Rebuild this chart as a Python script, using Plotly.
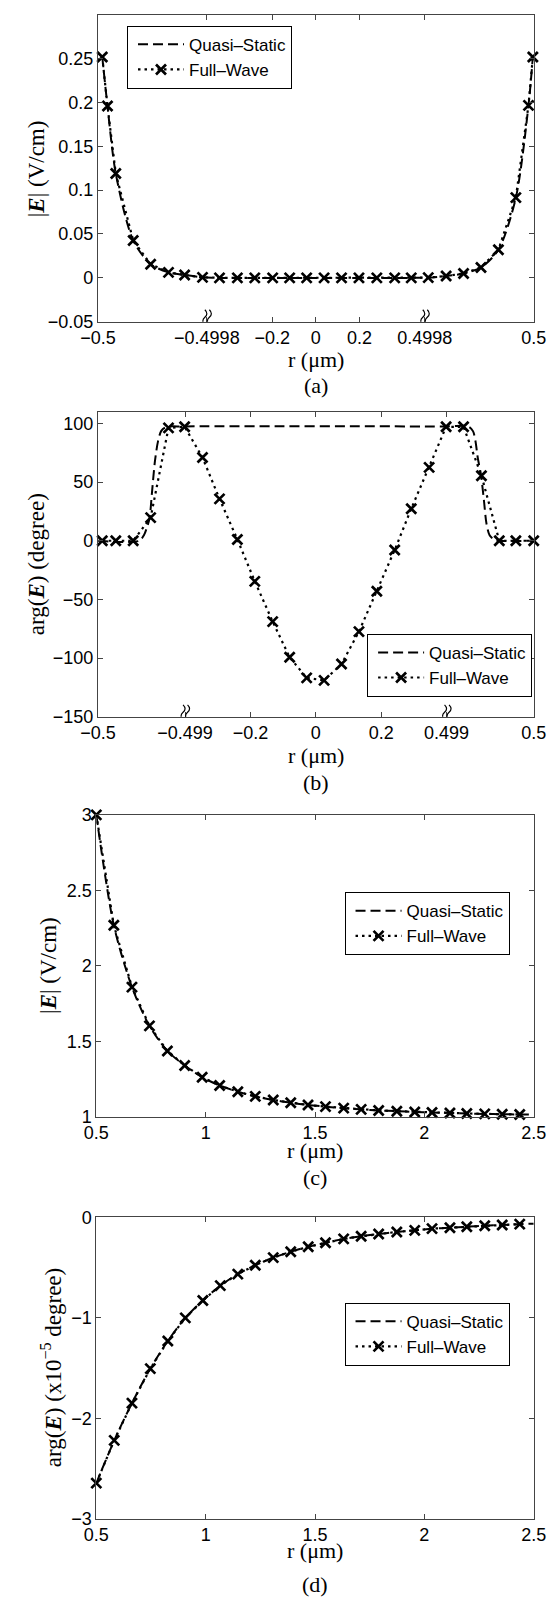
import plotly.graph_objects as go

W, H = 559, 1608

# ---------------- data ----------------
# Panel (a): |E| inside sphere, broken axis (display coordinate with custom tick labels)
a_tick_pos = [-0.5, -0.25, -0.1, 0, 0.1, 0.25, 0.5]
a_tick_text = ["\u22120.5", "\u22120.4998", "\u22120.2", "0", "0.2", "0.4998", "0.5"]
a_fw_x = [-0.490, -0.478, -0.459, -0.419, -0.379, -0.338, -0.301, -0.260, -0.221, -0.180,
          -0.140, -0.099, -0.060, -0.021, 0.019, 0.059, 0.099, 0.140, 0.181, 0.219,
          0.258, 0.299, 0.339, 0.379, 0.419, 0.459, 0.488, 0.498]
a_fw_y = [0.2516, 0.1957, 0.1188, 0.0426, 0.0156, 0.0063, 0.0033, 0.0006, 0, 0,
          0, 0, 0, 0, 0, 0, 0, 0, 0, 0,
          0.0003, 0.0021, 0.0050, 0.0119, 0.0320, 0.0914, 0.1965, 0.2516]
a_qs_x = a_fw_x
a_qs_y = a_fw_y

# Panel (b): arg(E) inside sphere
b_tick_pos = [-0.5, -0.3, -0.15, 0, 0.15, 0.3, 0.5]
b_tick_text = ["\u22120.5", "\u22120.499", "\u22120.2", "0", "0.2", "0.499", "0.5"]
b_fw_x = [-0.490, -0.459, -0.419, -0.379, -0.338, -0.301, -0.260, -0.221, -0.180, -0.140,
          -0.099, -0.060, -0.021, 0.019, 0.059, 0.099, 0.140, 0.181, 0.219, 0.260,
          0.299, 0.339, 0.380, 0.421, 0.459, 0.500]
b_fw_y = [0, 0, 0, 19.7, 96.2, 97.1, 70.9, 35.7, 1.1, -34.6,
          -68.9, -99.3, -116.8, -119.0, -105.0, -77.4, -43.0, -7.9, 27.3, 62.5,
          97.1, 97.1, 55.4, 0, 0, 0]
b_qs_x = [-0.500, -0.405, -0.3945, -0.3871, -0.3814, -0.3762, -0.3690, -0.3619, -0.3546,
          -0.3437, -0.301, 0.299, 0.3498, 0.3606, 0.3663, 0.3715, 0.379, 0.3858, 0.3916,
          0.3988, 0.4111, 0.418, 0.500]
b_qs_y = [0, 0, 4.7, 11.8, 19.4, 40.0, 68.2, 85.1, 93.6,
          96.9, 97.4, 97.4, 97.4, 93.4, 85.0, 70.9, 56.0, 34.3, 14.6,
          4.7, 0.5, 0, 0]

# Panel (c): |E| outside sphere
c_fw_x = [0.5, 0.580, 0.663, 0.743, 0.825, 0.904, 0.984, 1.064, 1.147, 1.227, 1.309, 1.389,
          1.468, 1.548, 1.631, 1.711, 1.791, 1.874, 1.956, 2.035, 2.117, 2.194, 2.276,
          2.356, 2.436]
c_fw_y = [3.0, 2.269, 1.859, 1.602, 1.436, 1.340, 1.262, 1.207, 1.166, 1.135, 1.111, 1.093,
          1.078, 1.067, 1.057, 1.049, 1.042, 1.037, 1.032, 1.028, 1.025, 1.022, 1.019,
          1.017, 1.015]
c_qs_x = c_fw_x + [2.5]
c_qs_y = c_fw_y + [1.014]

# Panel (d): arg(E) outside sphere (x1e-5 degree)
d_fw_x = [0.5, 0.582, 0.663, 0.747, 0.827, 0.907, 0.987, 1.067, 1.147, 1.227, 1.309, 1.389,
          1.469, 1.548, 1.631, 1.711, 1.791, 1.874, 1.956, 2.035, 2.117, 2.194, 2.276,
          2.356, 2.436]
d_fw_y = [-2.646, -2.220, -1.849, -1.505, -1.230, -1.000, -0.826, -0.679, -0.564, -0.475,
          -0.400, -0.341, -0.292, -0.252, -0.213, -0.187, -0.164, -0.144, -0.128, -0.111,
          -0.102, -0.092, -0.082, -0.075, -0.066]
d_qs_x = d_fw_x + [2.5]
d_qs_y = d_fw_y + [-0.062]

series_names = ["Quasi\u2013Static", "Full\u2013Wave"]

# ---------------- layout helpers ----------------
def fx(X):
    return X / W

def fy(Y):
    return 1 - Y / H

TICK_FONT = dict(family="Liberation Sans, Arial, sans-serif", size=18, color="black")
SERIF = "Liberation Serif, Times New Roman, serif"
AX_COL = "#444444"

panels = [
    dict(key="a", xs="x", ys="y", lg="legend",
         qs=(a_qs_x, a_qs_y), fw=(a_fw_x, a_fw_y),
         box=(84.6, 546, 5.0, 315.7), xr=[-0.5, 0.5], yr=[-0.05, 0.2995],
         xt=(a_tick_pos, a_tick_text), yt=[-0.05, 0, 0.05, 0.1, 0.15, 0.2, 0.25],
         leg=(115.4, 16.0), ytitle="|<b><i>E</i></b>| (V/cm)", ytx=19,
         xtitle_y=354, cap_y=380, breaks=[-0.25, 0.25]),
    dict(key="b", xs="x2", ys="y2", lg="legend2",
         qs=(b_qs_x, b_qs_y), fw=(b_fw_x, b_fw_y),
         box=(84.6, 546, 406.7, 715.7), xr=[-0.5, 0.5], yr=[-150, 110],
         xt=(b_tick_pos, b_tick_text), yt=[-150, -100, -50, 0, 50, 100],
         leg=(369.6, 631.7), ytitle="arg(<b><i>E</i></b>) (degree)", ytx=19,
         xtitle_y=755, cap_y=782, breaks=[-0.3, 0.3]),
    dict(key="c", xs="x3", ys="y3", lg="legend3",
         qs=(c_qs_x, c_qs_y), fw=(c_fw_x, c_fw_y),
         box=(82.9, 546, 815.0, 1120.7), xr=[0.5, 2.5], yr=[1, 3],
         xt=([0.5, 1, 1.5, 2, 2.5], ["0.5", "1", "1.5", "2", "2.5"]), yt=[1, 1.5, 2, 2.5, 3],
         leg=(345.7, 893.3), ytitle="|<b><i>E</i></b>| (V/cm)", ytx=33,
         xtitle_y=1155, cap_y=1182, breaks=[]),
    dict(key="d", xs="x4", ys="y4", lg="legend4",
         qs=(d_qs_x, d_qs_y), fw=(d_fw_x, d_fw_y),
         box=(82.9, 546, 1222.7, 1527.7), xr=[0.5, 2.5], yr=[-3, 0],
         xt=([0.5, 1, 1.5, 2, 2.5], ["0.5", "1", "1.5", "2", "2.5"]), yt=[-3, -2, -1, 0],
         leg=(345.7, 1309.0), ytitle="arg(<b><i>E</i></b>) (x10<sup>\u22125</sup> degree)", ytx=35,
         xtitle_y=1560, cap_y=1594, breaks=[]),
]

fig = go.Figure()
layout = dict(width=W, height=H, margin=dict(l=0, r=0, t=0, b=0),
              paper_bgcolor="white", plot_bgcolor="white", showlegend=True)
annotations = []
shapes = []

for p in panels:
    L, R, T, B = p["box"]
    xname = "xaxis" if p["xs"] == "x" else "xaxis" + p["xs"][1:]
    yname = "yaxis" if p["ys"] == "y" else "yaxis" + p["ys"][1:]
    common = dict(showline=True, linecolor=AX_COL, linewidth=1, mirror="ticks",
                  ticks="inside", ticklen=5, tickcolor=AX_COL, tickwidth=1,
                  showgrid=False, zeroline=False, tickfont=TICK_FONT, fixedrange=True)
    layout[xname] = dict(common, domain=[fx(L), fx(R)], range=p["xr"], anchor=p["ys"],
                         tickmode="array", tickvals=p["xt"][0], ticktext=p["xt"][1])
    layout[yname] = dict(common, domain=[fy(B), fy(T)], range=p["yr"], anchor=p["xs"],
                         tickmode="array", tickvals=p["yt"])
    lx, ly = p["leg"]
    layout[p["lg"]] = dict(x=fx(lx), y=fy(ly), xanchor="left", yanchor="top",
                           bgcolor="white", bordercolor="black", borderwidth=1,
                           font=dict(family="Liberation Sans, Arial, sans-serif", size=17, color="black"),
                           traceorder="normal", tracegroupgap=0, itemwidth=46, indentation=5)

    qx, qy = p["qs"]
    wx, wy = p["fw"]
    fig.add_trace(go.Scatter(x=qx, y=qy, mode="lines", name=series_names[0],
                             line=dict(color="black", width=2, dash="10px,5px", shape="spline", smoothing=0.8),
                             xaxis=p["xs"], yaxis=p["ys"], legend=p["lg"], cliponaxis=True))
    fig.add_trace(go.Scatter(x=wx, y=wy, mode="lines+markers", name=series_names[1],
                             line=dict(color="black", width=2.2, dash="2.5px,4px"),
                             marker=dict(symbol="x-thin", size=10, color="black",
                                         line=dict(color="black", width=2.7)),
                             xaxis=p["xs"], yaxis=p["ys"], legend=p["lg"], cliponaxis=False))

    cx = (L + R) / 2
    annotations.append(dict(text="r (\u03bcm)", x=fx(cx), y=fy(p["xtitle_y"]), xref="paper", yref="paper",
                            xanchor="center", yanchor="middle", showarrow=False,
                            font=dict(family=SERIF, size=22, color="black")))
    annotations.append(dict(text="(" + p["key"] + ")", x=fx(cx), y=fy(p["cap_y"]), xref="paper", yref="paper",
                            xanchor="center", yanchor="middle", showarrow=False,
                            font=dict(family=SERIF, size=22, color="black")))
    annotations.append(dict(text=p["ytitle"], x=fx(p["ytx"]), y=fy((T + B) / 2), xref="paper", yref="paper",
                            xanchor="center", yanchor="middle", showarrow=False, textangle=-90,
                            font=dict(family=SERIF, size=23, color="black")))
    for bx in p["breaks"]:
        shapes.append(dict(type="path", xref=p["xs"], yref=p["ys"], xsizemode="pixel", ysizemode="pixel",
                           xanchor=bx, yanchor=p["yr"][0],
                           path="M-2,-3 Q-6,1 -2,4.5 Q2,8 -2,12 M2.5,-3 Q-1.5,1 2.5,4.5 Q6.5,8 2.5,12",
                           line=dict(color="black", width=1.2)))

layout["annotations"] = annotations
layout["shapes"] = shapes
fig.update_layout(**layout)
fig.write_html("out.html")
